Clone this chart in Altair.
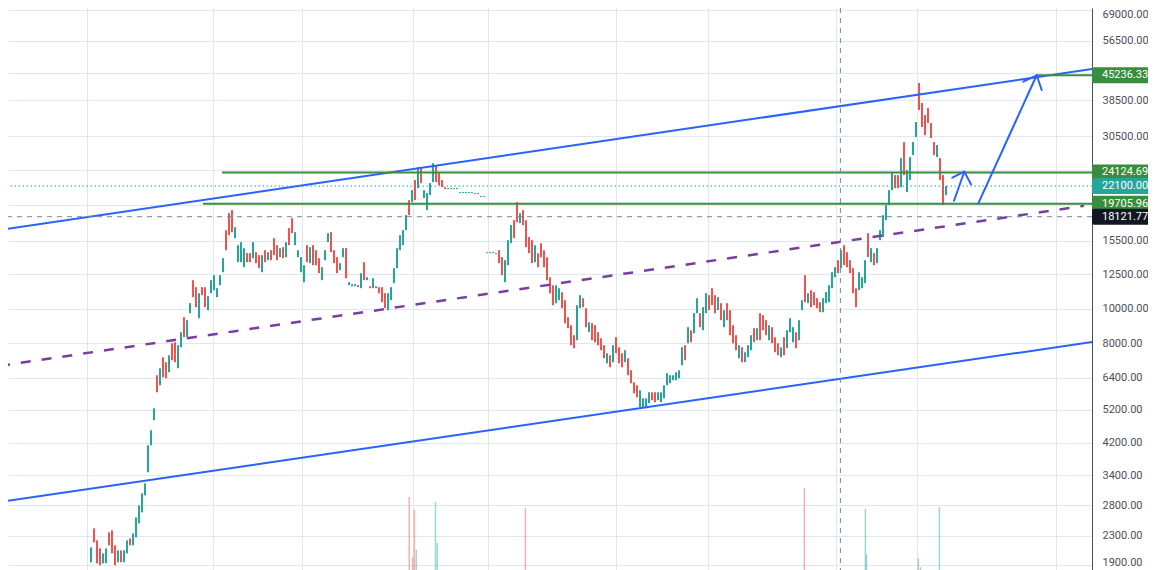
import altair as alt
import pandas as pd

# ---------------- candle data (one candle per bar index) ----------------
opens = [
    1938, 2414, 2234, 2121, 1925, 1925, 2352, 2383, 2163, 1938,
    2094, 1938, 2054, 2263, 2163, 2277, 2493, 2677, 2989, 3469,
    4131, 4857, 6498, 6092, 7302, 7069, 6625, 7994, 8046, 6799,
    7790, 9460, 8311, 9708, 12019, 11487, 9398, 11487, 11487, 9898,
    11050, 11266, 10767, 11637, 12658, 16612, 18545, 18908, 15773, 13504,
    13504, 13074, 14315, 14315, 13858, 14407, 14131, 12658, 14595, 13680,
    14595, 15773, 15076, 13949, 14881, 13949, 16828, 17954, 15076, 13949,
    12658, 11864, 15076, 13417, 15076, 14595, 13858, 12019, 13680, 15370,
    16398, 14595, 13949, 12823, 13949, 14785, 11637, 11561, 11561, 11637,
    11412, 13504, 12019, 11561, 11412, 11561, 11487, 11487, 11050, 9898,
    10560, 11788, 12989, 14595, 15076, 16612, 20173, 19913, 22961, 21802,
    24976, 20435, 18908, 20837, 22665, 25303, 24026, 22961, 21944, 21661,
    21661, 21661, 21661, 21109, 21109, 21109, 21109, 21109, 20971, 20971,
    20569, 20569, 14315, 14315, 14315, 14222, 14595, 13949, 11864, 13245,
    15272, 17723, 19913, 17383, 18908, 17723, 15876, 15571, 13504, 14315,
    15272, 14595, 13949, 12255, 11637, 10357, 10560, 11121, 10560, 9460,
    8983, 8419, 8151, 10027, 10697, 10027, 8584, 9100, 8983, 8584,
    8257, 7892, 7023, 7397, 7069, 8311, 7790, 7493, 7069, 7254,
    6712, 6211, 6092, 5283, 5283, 5249, 5422, 5821, 5821, 5528,
    5457, 5599, 6092, 6171, 6292, 6292, 6373, 6933, 7892, 7994,
    8696, 8529, 9708, 9708, 8696, 9708, 10908, 11412, 10908, 9898,
    10357, 8867, 10357, 9898, 8983, 8419, 7254, 7790, 7069, 7302,
    7640, 8810, 8151, 9708, 9583, 9278, 8151, 8867, 8311, 7994,
    7302, 8311, 7740, 8584, 8046, 8584, 8151, 9898, 12415, 10357,
    11266, 11121, 10697, 10424, 9771, 10357, 10424, 11412, 12255, 13680,
    12989, 15076, 14407, 13680, 12989, 11412, 11266, 11412, 11788, 16293,
    13504, 14315, 13417, 15571, 15876, 17723, 19532, 21522, 23717, 23717,
    21944, 29362, 21244, 22961, 26994, 30329, 43020, 37796, 34972, 36590,
    33207, 29362, 26646, 26473, 23717, 20837,
]
closes = [
    2135, 2205, 1925, 1901, 2054, 2121, 2163, 2054, 1901, 2094,
    1938, 2094, 2234, 2163, 2337, 2592, 2802, 3028, 3231, 4131,
    4552, 5249, 5821, 6799, 6415, 6373, 7397, 7161, 7069, 7892,
    8584, 8311, 9278, 10357, 10767, 10092, 11050, 10908, 10092, 10837,
    12019, 12415, 11412, 12415, 13858, 14595, 16084, 16398, 16938, 15076,
    15370, 14785, 13504, 13504, 15370, 13417, 12989, 14131, 13504, 14407,
    13680, 14131, 13680, 14785, 13858, 15370, 15076, 16293, 16398, 14595,
    13949, 13245, 13504, 14881, 13245, 13245, 12577, 13074, 14595, 16293,
    14407, 13417, 12577, 13417, 14785, 12176, 11864, 11711, 11711, 11487,
    12577, 12019, 12255, 11412, 12176, 11412, 11050, 10424, 10027, 11050,
    11487, 12989, 14785, 16084, 16612, 18307, 18307, 21522, 20173, 24976,
    22520, 21522, 21109, 22520, 25632, 22665, 22231, 21944, 21661, 21802,
    21802, 21802, 21802, 21244, 21244, 21244, 21244, 21244, 21109, 21109,
    20702, 20702, 14407, 14407, 14407, 14315, 13417, 12415, 13680, 15571,
    17159, 15773, 17494, 18545, 17159, 14881, 14315, 13417, 15076, 13074,
    13949, 13074, 12019, 11050, 10224, 11637, 11412, 10027, 9100, 8810,
    7892, 7740, 10224, 10908, 10092, 8867, 9158, 8151, 8046, 7892,
    7640, 7254, 7493, 6844, 7892, 7493, 7023, 6844, 7640, 6498,
    6171, 5784, 5636, 5897, 5599, 5599, 5821, 5528, 5457, 5821,
    5821, 6092, 6583, 6498, 6498, 6625, 6712, 7790, 7161, 8867,
    8046, 9708, 10697, 8867, 10092, 11050, 9898, 10224, 9708, 10767,
    9278, 9898, 9278, 8419, 7994, 7640, 7892, 7069, 7542, 7892,
    8419, 8046, 8810, 8151, 8696, 8419, 8983, 7994, 7542, 7397,
    7790, 7397, 8696, 9398, 8867, 7740, 9278, 10560, 10424, 11050,
    10092, 10224, 10027, 9771, 10697, 11121, 11637, 12658, 13074, 12577,
    14595, 13245, 13074, 12577, 11050, 10092, 12658, 12255, 13680, 13949,
    14785, 13245, 14785, 16612, 18307, 19532, 21522, 24180, 21802, 21802,
    26473, 23717, 24496, 26646, 29362, 33420, 36121, 32357, 30726, 33207,
    30132, 26994, 28800, 22961, 19532, 22100,
]

# ---------------- volume bars ----------------
vol_t = [106.07, 107.2, 107.8, 108.43, 114.83, 115.43, 144.8, 237.77, 258.13, 258.5, 275.77, 276.5, 282.8]
vol_v = [130, 23, 107, 36, 121, 48, 110, 146, 109, 28, 21, 5, 112]
vol_dir = ["down", "down", "down", "up", "up", "up", "down", "down", "up", "up", "up", "down", "up"]

# ---------------- axes ----------------
price_ticks = [69000, 56500, 46000, 38500, 30500, 24500, 19500, 15500, 12500,
               10000, 8000, 6400, 5200, 4200, 3400, 2800, 2300, 1900]
hidden_ticks = [46000, 24500, 19500]
time_grid = [-1.27, 40.8, 70.47, 107.43, 132.47, 175.1, 205.8, 248.43, 275.43, 321.77]

# ---------------- drawings ----------------
chan_t1 = [-30.33, -30.33]
chan_p1 = [16638, 2863]
chan_t2 = [333.67, 333.67]
chan_p2 = [47111, 8058]

arrow_t1 = [287.67, 287.1, 293.33, 295.77, 310.77, 316.9]
arrow_p1 = [20096, 23321, 22346, 19762, 43394, 41126]
arrow_t2 = [291.1, 291.1, 291.1, 315.23, 315.23, 315.23]
arrow_p2 = [24243, 24243, 24243, 45236.33, 45236.33, 45236.33]

mid_t1 = [-30.33]
mid_p1 = [6906]
mid_t2 = [331.0]
mid_p2 = [19441]

level_t1 = [43.67, 37.33, 315.23]
level_t2 = [333.67, 333.67, 333.67]
level_p = [24124.69, 19705.96, 45236.33]

last_price = [22100.0]
cross_price = [18121.77]
cross_t = [249.8]

lab_price = [45236.33, 24124.69, 22100.00, 19705.96, 18121.77]
lab_text = ["45236.33", "24124.69", "22100.00", "19705.96", "18121.77"]
lab_color = ["#388e3c", "#388e3c", "#26a69a", "#388e3c", "#131722"]

# ---------------- styling ----------------
GREEN = "#26a69a"
RED = "#ef5350"
BLUE = "#2962ff"
LEVEL = "#388e3c"
PURPLE = "#7a3e9d"
GRAY = "#758696"
GRID = "#e1e7ee"
TEXT = "#4b4f59"
W, H = 1084, 562

xs = alt.Scale(domain=[-27.667, 333.667], nice=False, zero=False)
ys = alt.Scale(type="log", domain=[1844, 69900], nice=False)
dir_scale = alt.Scale(domain=["up", "down"], range=[GREEN, RED])

x_axis = alt.Axis(values=time_grid, labels=False, ticks=False, domain=False,
                  title=None, grid=True, gridColor=GRID, gridWidth=1)
label_expr = ("indexof([" + ",".join(str(v) for v in hidden_ticks) +
              "], datum.value) >= 0 ? '' : format(datum.value, '.2f')")
y_axis = alt.Axis(orient="right", values=price_ticks, labelExpr=label_expr,
                  title=None, ticks=False, domain=True, domainColor=TEXT,
                  domainWidth=1, grid=True, gridColor=GRID, gridWidth=1,
                  labelPadding=10, labelFontSize=11, labelColor=TEXT,
                  labelFont="Roboto", labelOverlap=False, labelAlign="left",
                  labelFlush=5, labelFlushOffset=2)


def X(f):
    return alt.X(f, type="quantitative", scale=xs, axis=x_axis)


def Y(f):
    return alt.Y(f, type="quantitative", scale=ys, axis=y_axis)


df_c = pd.DataFrame({"t": list(range(len(opens))), "open": opens, "close": closes})
df_c["dir"] = ["up" if c >= o else "down" for o, c in zip(opens, closes)]

df_v = pd.DataFrame({"t": vol_t, "v": vol_v, "dir": vol_dir})

vol = alt.Chart(df_v).mark_rule(strokeWidth=1.5, opacity=0.45).encode(
    x=X("t"),
    y=alt.Y("v:Q", scale=alt.Scale(domain=[0, 1000], range=[562, 0]), axis=None),
    y2=alt.value(562),
    color=alt.Color("dir:N", scale=dir_scale, legend=None),
)

candles = alt.Chart(df_c).mark_rule(strokeWidth=2.0, clip=True).encode(
    x=X("t"), y=Y("open"), y2="close",
    color=alt.Color("dir:N", scale=dir_scale, legend=None),
)

df_chan = pd.DataFrame({"t": chan_t1, "p": chan_p1, "t2": chan_t2, "p2": chan_p2})
channels = alt.Chart(df_chan).mark_rule(color=BLUE, strokeWidth=2, clip=True).encode(
    x=X("t"), y=Y("p"), x2="t2", y2="p2")

df_arr = pd.DataFrame({"t": arrow_t1, "p": arrow_p1, "t2": arrow_t2, "p2": arrow_p2})
arrows = alt.Chart(df_arr).mark_rule(color=BLUE, strokeWidth=2, strokeCap="round", clip=True).encode(
    x=X("t"), y=Y("p"), x2="t2", y2="p2")

df_mid = pd.DataFrame({"t": mid_t1, "p": mid_p1, "t2": mid_t2, "p2": mid_p2})
mid = alt.Chart(df_mid).mark_rule(color=PURPLE, strokeWidth=2.5, strokeDash=[10, 11], clip=True).encode(
    x=X("t"), y=Y("p"), x2="t2", y2="p2")

df_lvl = pd.DataFrame({"t": level_t1, "t2": level_t2, "p": level_p})
levels = alt.Chart(df_lvl).mark_rule(color=LEVEL, strokeWidth=2, clip=True).encode(
    x=X("t"), x2="t2", y=Y("p"))

last_line = alt.Chart(pd.DataFrame({"p": last_price})).mark_rule(
    color=GREEN, strokeWidth=1, strokeDash=[1.5, 2.5]).encode(y=Y("p"))

cross_h = alt.Chart(pd.DataFrame({"p": cross_price})).mark_rule(
    color=GRAY, strokeWidth=1, strokeDash=[5, 5]).encode(y=Y("p"))

cross_v = alt.Chart(pd.DataFrame({"t": cross_t})).mark_rule(
    color=GRAY, strokeWidth=1, strokeDash=[5, 5]).encode(x=X("t"))

df_lab = pd.DataFrame({"p": lab_price, "label": lab_text, "c": lab_color})
boxes = alt.Chart(df_lab).mark_tick(orient="horizontal", thickness=16, opacity=1,
                                    cornerRadius=2).encode(
    x=alt.value(1113), y=Y("p"), size=alt.value(58),
    color=alt.Color("c:N", scale=None))
texts = alt.Chart(df_lab).mark_text(align="left", baseline="middle", color="white",
                                    fontSize=11, font="Roboto").encode(
    x=alt.value(1094), y=Y("p"), text="label:N")

price = alt.layer(candles, mid, channels, levels, last_line, cross_h, cross_v,
                  arrows, boxes, texts)

chart = alt.layer(vol, price).resolve_scale(y="independent").properties(
    width=W, height=H,
    autosize=alt.AutoSizeParams(type="none"),
    padding={"left": 0, "top": 0, "right": 56, "bottom": 0},
    background="white",
).configure_view(strokeWidth=0)

chart.save("out.html", embed_options={"renderer": "svg", "actions": False})
